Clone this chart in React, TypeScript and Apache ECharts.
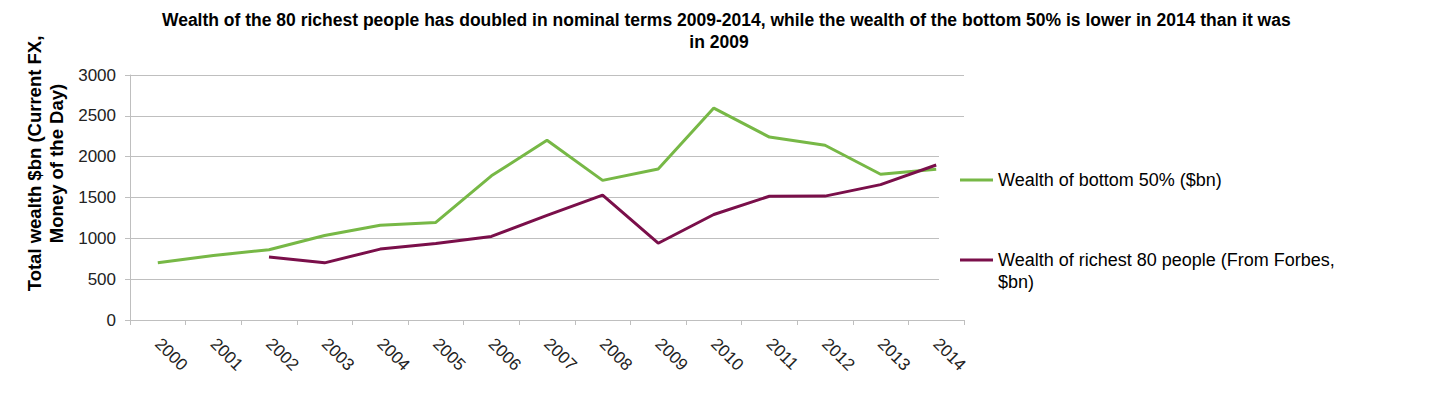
import React, { useEffect, useRef } from "react";
import * as echarts from "echarts";

const titleText =
  "    Wealth of the 80 richest people has doubled in nominal terms 2009-2014, while the wealth of the bottom 50% is lower in 2014 than it was \nin 2009";
const yAxisName = "Total wealth $bn (Current FX,\nMoney of the Day)";
const years = ["2000", "2001", "2002", "2003", "2004", "2005", "2006", "2007", "2008", "2009", "2010", "2011", "2012", "2013", "2014"];
const bottom50Name = "Wealth of bottom 50% ($bn)";
const bottom50 = [700, 790, 860, 1035, 1160, 1195, 1765, 2200, 1710, 1850, 2595, 2240, 2140, 1785, 1845];
const richest80Name = "Wealth of richest 80 people (From Forbes, $bn)";
const richest80 = [null, null, 770, 700, 868, 937, 1023, 1280, 1530, 940, 1292, 1515, 1517, 1658, 1898];
const yTicks = { min: 0, max: 3000, interval: 500 };

const GREEN = "#77B846";
const PURPLE = "#7A0F4A";
const GRID = "#BFBFBF";
const FONT = "'Liberation Sans', Arial, sans-serif";

export default function App() {
  const ref = useRef<HTMLDivElement>(null);
  useEffect(() => {
    if (!ref.current) return;
    const chart = echarts.init(ref.current, undefined, { renderer: "svg" });
    chart.setOption({
      animation: false,
      backgroundColor: "#fff",
      textStyle: { fontFamily: FONT },
      title: {
        text: titleText,
        left: "center",
        top: 4,
        textStyle: { fontSize: 17.5, fontWeight: "bold", color: "#000", lineHeight: 22, fontFamily: FONT },
      },
      grid: { left: 130, right: 474, top: 75, bottom: 75, containLabel: false },
      legend: [
        {
          data: [bottom50Name],
          left: 960,
          top: 169,
          padding: 0,
          icon: "rect",
          itemWidth: 33,
          itemHeight: 3,
          textStyle: { fontSize: 18, color: "#000", lineHeight: 22, fontFamily: FONT },
        },
        {
          data: [richest80Name],
          left: 960,
          top: 227,
          padding: 0,
          icon: "rect",
          itemWidth: 33,
          itemHeight: 3,
          formatter: () => " \nWealth of richest 80 people (From Forbes,\n$bn)",
          textStyle: { fontSize: 18, color: "#000", lineHeight: 22, fontFamily: FONT },
        },
      ],
      graphic: [
        {
          type: "rect",
          z: 1,
          shape: { x: 939, y: 130, width: 30, height: 186 },
          style: { fill: "#fff" },
          silent: true,
        },
      ],
      xAxis: {
        type: "category",
        data: years,
        boundaryGap: true,
        axisLine: { lineStyle: { color: GRID, width: 1 } },
        axisTick: { show: true, length: 5, lineStyle: { color: GRID } },
        axisLabel: { rotate: -45, fontSize: 17, color: "#222", margin: 21, interval: 0, fontFamily: FONT },
        splitLine: { show: false },
      },
      yAxis: {
        type: "value",
        min: yTicks.min,
        max: yTicks.max,
        interval: yTicks.interval,
        name: yAxisName,
        nameLocation: "middle",
        nameGap: 50,
        nameTextStyle: {
          fontSize: 18.5,
          fontWeight: "bold",
          color: "#000",
          lineHeight: 22,
          padding: [0, 0, 0, 68],
          fontFamily: FONT,
        },
        axisLine: { show: true, lineStyle: { color: GRID, width: 1 } },
        axisTick: { show: true, length: 5, lineStyle: { color: GRID } },
        axisLabel: {
          fontSize: 17,
          color: "#222",
          margin: 14,
          fontFamily: FONT,
          formatter: (v: number) => String(v),
        },
        splitLine: { show: true, lineStyle: { color: GRID, width: 1 } },
      },
      series: [
        {
          name: bottom50Name,
          type: "line",
          data: bottom50,
          symbol: "none",
          lineStyle: { color: GREEN, width: 3 },
          itemStyle: { color: GREEN },
          z: 3,
        },
        {
          name: richest80Name,
          type: "line",
          data: richest80,
          symbol: "none",
          connectNulls: false,
          lineStyle: { color: PURPLE, width: 3 },
          itemStyle: { color: PURPLE },
          z: 3,
        },
      ],
    });
    return () => chart.dispose();
  }, []);
  return (
    <div
      ref={ref}
      style={{ position: "fixed", left: 0, top: 0, width: 1438, height: 395 }}
    />
  );
}
